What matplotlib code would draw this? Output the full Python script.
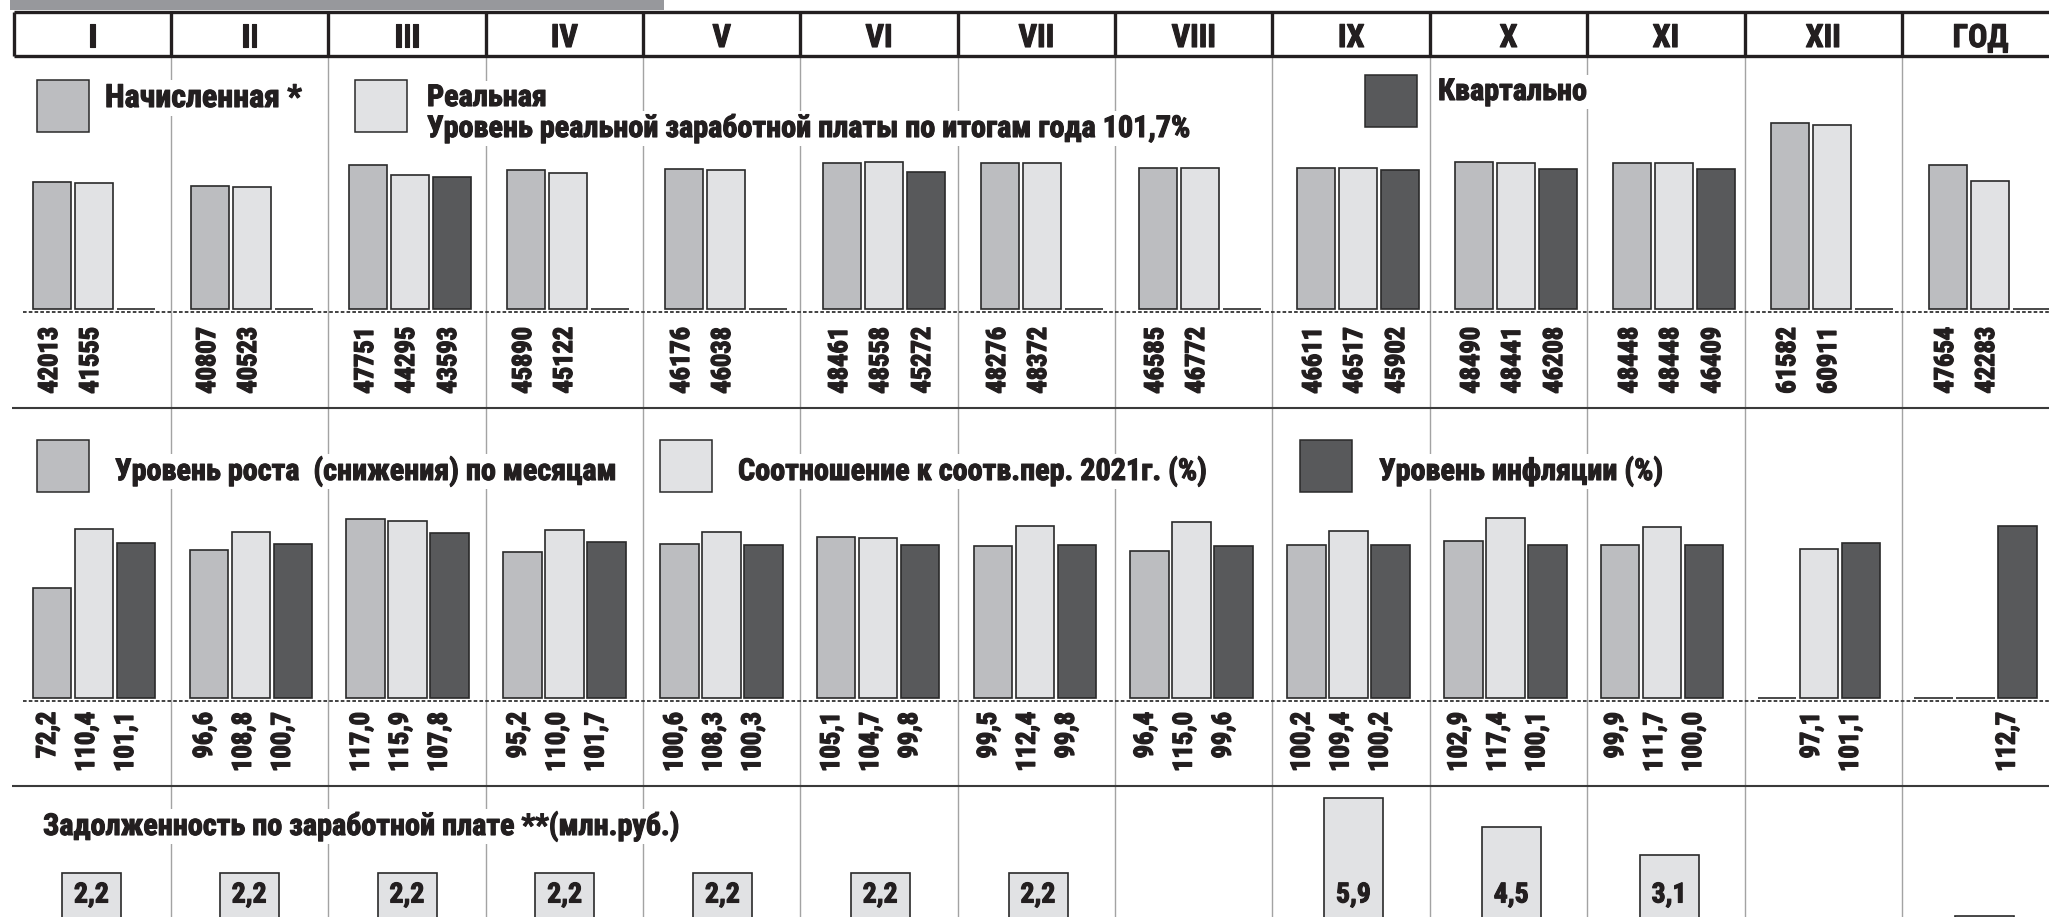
import matplotlib
matplotlib.use('Agg')
import numpy as np
import matplotlib.pyplot as plt
import matplotlib.patheffects as pe
from matplotlib.patches import Rectangle
from matplotlib import font_manager

# --- DATA ---
MONTHS = ['I', 'II', 'III', 'IV', 'V', 'VI', 'VII', 'VIII', 'IX', 'X', 'XI', 'XII', 'ГОД']

# average wage, rub.
WAGE_NOMINAL = [42013, 40807, 47751, 45890, 46176, 48461, 48276, 46585, 46611, 48490, 48448, 61582, 47654]
WAGE_REAL = [41555, 40523, 44295, 45122, 46038, 48558, 48372, 46772, 46517, 48441, 48448, 60911, 42283]
WAGE_QUARTER = [None, None, 43593, None, None, 45272, None, None, 45902, 46208, 46409, None, None]

# indices, %
GROWTH = [72.2, 96.6, 117.0, 95.2, 100.6, 105.1, 99.5, 96.4, 100.2, 102.9, 99.9, None, None]
RATIO_2021 = [110.4, 108.8, 115.9, 110.0, 108.3, 104.7, 112.4, 115.0, 109.4, 117.4, 111.7, 97.1, None]
INFLATION = [101.1, 100.7, 107.8, 101.7, 100.3, 99.8, 99.8, 99.6, 100.2, 100.1, 100.0, 101.1, 112.7]

# wage arrears, mln rub. (annual bar is cut off by the page edge)
ARREARS = [2.2, 2.2, 2.2, 2.2, 2.2, 2.2, 2.2, None, 5.9, 4.5, 3.1, None, 0.1]

# --- STYLE ---
W, H = 2049, 917
C_NOM = '#bcbdc0'
C_REAL = '#e1e2e4'
C_DARK = '#58595b'
C_EDGE = '#2a2a2a'
C_TEXT = '#231f20'
C_GRID = '#a3a3a3'

X0, COLW = 13.6, 157.36      # page columns (pixels)

# a condensed bold face is needed; take whatever is installed
fonts = font_manager.fontManager.ttflist
FAMILY, STRETCH, SCALE = 'Liberation Sans', 'normal', 0.8
for pref in ['Liberation Sans Narrow', 'Roboto Condensed', 'Open Sans Condensed',
             'Noto Sans Condensed', 'DejaVu Sans Condensed', 'Arial Narrow']:
    if any(f.name == pref for f in fonts):
        FAMILY, STRETCH, SCALE = pref, 'normal', 1.0
        break
else:
    for fam in ['Roboto', 'Noto Sans', 'Open Sans', 'DejaVu Sans', 'Liberation Sans']:
        if any(f.name == fam and f.stretch not in ('normal', 500) for f in fonts):
            FAMILY, STRETCH, SCALE = fam, 'condensed', 1.0
            break

plt.rcParams['font.family'] = [FAMILY, 'DejaVu Sans']
plt.rcParams['font.stretch'] = STRETCH
plt.rcParams['font.weight'] = 'heavy'
plt.rcParams['text.color'] = C_TEXT

# the print face is blacker than any installed bold: thicken the glyphs a little
HEAVY = [pe.withStroke(linewidth=0.8, foreground=C_TEXT)]


def fs(size):
    return size * SCALE


def comma(v, nd=1):
    return f"{v:.{nd}f}".replace('.', ',')


fig = plt.figure(figsize=(W / 100, H / 100), dpi=100)

# page layer in pixel coordinates: frame, grid, legends
page = fig.add_axes([0, 0, 1, 1], zorder=0)
page.set_xlim(0, W)
page.set_ylim(H, 0)
page.axis('off')

page.add_patch(Rectangle((10, -5), 654, 15, fc='#97989c', ec='none'))

bounds = [X0 + i * COLW for i in range(1, 13)]
page.vlines(bounds, 56, H, color=C_GRID, lw=1.0, zorder=1)
page.hlines([12, 56], X0, W + 5, color=C_TEXT, lw=2.4, zorder=2)
page.vlines([X0] + bounds, 12, 56, color=C_TEXT, lw=2.4, zorder=2)
for i, m in enumerate(MONTHS):
    page.text(X0 + (i + 0.5) * COLW, 47, m, ha='center', va='baseline', fontsize=fs(23), path_effects=HEAVY)

page.hlines([408, 786], 12, W, color='#3a3a3a', lw=1.5, zorder=2)
page.hlines([312, 701], 23, W, color='#333333', lw=1.3, linestyles=(0, (2, 1.2)), zorder=2)

WHITE = dict(facecolor='white', edgecolor='none', pad=2)


def legend_box(x, y, color):
    page.add_patch(Rectangle((x, y), 52, 52, fc=color, ec=C_EDGE, lw=1.1, zorder=3))


def label(x, y, s, size=21.7):
    page.text(x, y, s, ha='left', va='baseline', fontsize=fs(size), bbox=WHITE, zorder=4, path_effects=HEAVY)


legend_box(37, 80, C_NOM)
label(105, 107, 'Начисленная *', 23)
legend_box(355, 80, C_REAL)
label(427, 106, 'Реальная')
label(427, 137, 'Уровень реальной заработной платы по итогам года 101,7%')
legend_box(1365, 75, C_DARK)
label(1438, 100, 'Квартально')

legend_box(37, 440, C_NOM)
label(115, 480, 'Уровень роста  (снижения) по месяцам')
legend_box(660, 440, C_REAL)
label(738, 480, 'Соотношение к соотв.пер. 2021г. (%)')
legend_box(1300, 440, C_DARK)
label(1379, 480, 'Уровень инфляции (%)')

label(43, 835, 'Задолженность по заработной плате **(млн.руб.)')


def bar_axes(c0, pitch, y_base, y_top, px_per_unit):
    left = c0 - 0.5 * pitch
    ax = fig.add_axes([left / W, (H - y_base) / H, 13 * pitch / W, (y_base - y_top) / H], zorder=1)
    ax.set_xlim(0, 13)
    ax.set_ylim(0, (y_base - y_top) / px_per_unit)
    ax.axis('off')
    return ax


def grouped(ax, pitch, series, label_dx, label_dy, fmt):
    xs = np.arange(13) + 0.5
    offs = np.array([-42, 0, 42]) / pitch
    for j, (vals, col) in enumerate(zip(series, [C_NOM, C_REAL, C_DARK])):
        h = [0 if v is None else v for v in vals]
        ax.bar(xs + offs[j], h, 38.6 / pitch, color=col, edgecolor=C_EDGE, linewidth=1.2, clip_on=False)
        for x, v in zip(xs + offs[j], vals):
            if v is None:
                continue
            ax.annotate(fmt(v), xy=(x, 0), xytext=(label_dx[j], -label_dy), textcoords='offset pixels',
                        rotation=90, ha='center', va='top', fontsize=fs(19),
                        path_effects=[pe.withStroke(linewidth=1.0, foreground=C_TEXT)])


# wages
ax1 = bar_axes(94, 158.0, 309, 100, 127 / 42013)
grouped(ax1, 158.0, [WAGE_NOMINAL, WAGE_REAL, WAGE_QUARTER], (-2, -3, -3), 18, lambda v: f"{v}")

# indices
ax2 = bar_axes(94, 156.8, 698, 500, 179 / 117)
grouped(ax2, 156.8, [GROWTH, RATIO_2021, INFLATION], (-4, -7, -10), 14, comma)

# arrears
ax3 = bar_axes(91.5, 157.75, 918, 780, 20.3)
for i, v in enumerate(ARREARS):
    if v is None:
        continue
    ax3.bar(i + 0.5, v, 59 / 157.75, color=C_REAL, edgecolor=C_EDGE, linewidth=1.2, clip_on=False)
    if v >= 1:  # annual label falls below the page edge
        ax3.annotate(comma(v), xy=(i + 0.5, 0), xytext=(0, 23), textcoords='offset pixels',
                     ha='center', va='center', fontsize=fs(20), path_effects=HEAVY)

fig.savefig('out.png', dpi=100)
